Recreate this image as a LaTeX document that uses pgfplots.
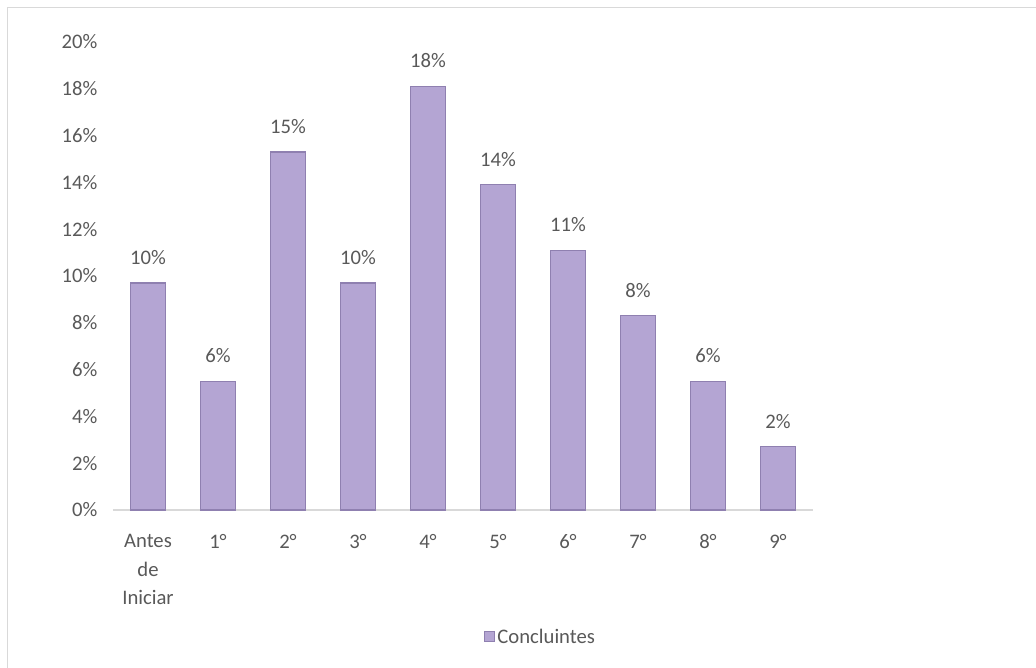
\documentclass[border=0pt]{standalone}
\usepackage{pgfplots}
\pgfplotsset{compat=1.18}
\usepackage{fontspec}
\setmainfont{Carlito}
\definecolor{txt}{HTML}{595959}
\definecolor{barc}{HTML}{B4A5D3}
\definecolor{bare}{HTML}{8F80B0}
\definecolor{frm}{HTML}{D9D9D9}
\begin{document}
\begin{tikzpicture}
\begin{axis}[
  at={(0pt,0pt)}, anchor=south west,
  scale only axis, width=525pt, height=351pt,
  xmin=-0.5, xmax=9.5, ymin=0, ymax=20,
  ybar, bar width=26.5pt,
  axis x line=bottom, axis y line=left,
  x axis line style={draw=frm, line width=1pt, -},
  y axis line style={draw=none},
  tick style={draw=none},
  xtick={0,...,9},
  xticklabels={{Antes\\de\\Iniciar},1°,2°,3°,4°,5°,6°,7°,8°,9°},
  xticklabel style={align=center, text=txt, font=\fontsize{15.5}{21.5}\selectfont, yshift=-12.5pt},
  ytick={0,2,...,20},
  yticklabel={\pgfmathprintnumber{\tick}\%},
  /pgf/number format/assume math mode=true,
  yticklabel style={text=txt, font=\fontsize{15.5}{18}\selectfont, xshift=-6pt},
  point meta=explicit symbolic,
  nodes near coords,
  nodes near coords style={text=txt, font=\fontsize{15.5}{18}\selectfont, yshift=10pt},
  legend style={at={(0.611,-0.271)}, anchor=center, draw=none, text=txt, font=\fontsize{15.5}{18}\selectfont, inner sep=1pt},
  legend image code/.code={\fill[barc, draw=bare] (0pt,-3.75pt) rectangle (7.5pt,3.75pt);},
]
\addplot[fill=barc, draw=bare, line width=0.8pt] coordinates {
  (0,9.7) [10\%]
  (1,5.5) [6\%]
  (2,15.3) [15\%]
  (3,9.7) [10\%]
  (4,18.1) [18\%]
  (5,13.9) [14\%]
  (6,11.1) [11\%]
  (7,8.3) [8\%]
  (8,5.5) [6\%]
  (9,2.7) [2\%]
};
\addlegendentry{Concluintes}
\end{axis}
\path[use as bounding box] (-84.75pt,-118.5pt) rectangle (692.25pt,382.5pt);
\draw[frm] (-79.5pt,-118.5pt) -- (-79.5pt,377.25pt) -- (692.25pt,377.25pt);
\end{tikzpicture}
\end{document}
